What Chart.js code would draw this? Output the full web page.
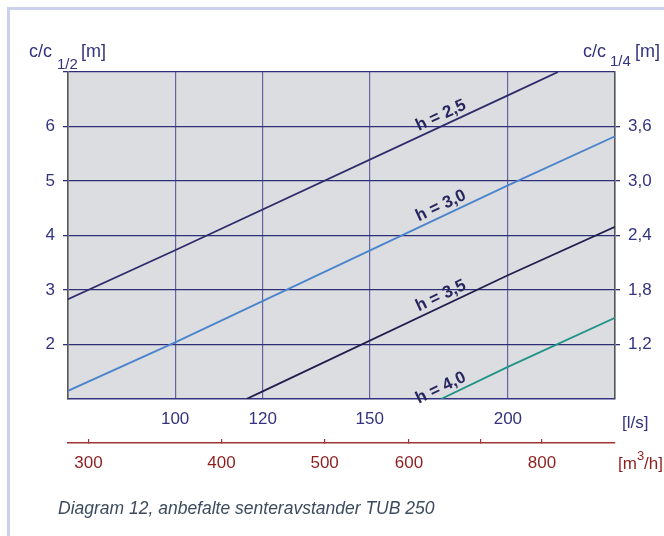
<!DOCTYPE html>
<html>
<head>
<meta charset="utf-8">
<script src="https://cdn.jsdelivr.net/npm/chart.js@4.4.1/dist/chart.umd.min.js"></script>
<style>
  body { margin: 0; background: #fff; }
  #wrap { position: relative; width: 664px; height: 536px; }
  #chart { position: absolute; left: 0; top: 0; }
  #caption {
    position: absolute; left: 58px; top: 498px;
    font: italic 17.5px 'Liberation Sans', Arial, sans-serif;
    line-height: 20px; color: #3d4b5e; white-space: nowrap;
  }
</style>
</head>
<body>
<div id="wrap">
  <canvas id="chart" width="664" height="536"></canvas>
  <div id="caption">Diagram 12, anbefalte senteravstander TUB 250</div>
</div>
<script>
// flow in l/s (log axis) against c/c1/2 in metres
const lsTicks = [100, 120, 150, 200];
const m3hTicks = [300, 400, 500, 600, 700, 800];
const m3hLabels = ['300', '400', '500', '600', '', '800'];
const ccHalfTicks = [2, 3, 4, 5, 6, 7];
const ccQuarterTicks = [1.2, 1.8, 2.4, 3.0, 3.6];

const seriesNames = ['h = 2,5', 'h = 3,0', 'h = 3,5', 'h = 4,0'];
const h25Flow = [80, 100, 200, 222];
const h25Cc = [2.83, 3.73, 6.57, 7.0];
const h30Flow = [80, 100, 200, 250];
const h30Cc = [1.15, 2.04, 4.92, 5.82];
const h35Flow = [116, 120, 200, 250];
const h35Cc = [1.0, 1.14, 3.27, 4.16];
const h40Flow = [174, 200, 250];
const h40Cc = [1.0, 1.59, 2.49];

const navy = '#33337f';
const FONT = "'Liberation Sans', Arial, sans-serif";
Chart.defaults.font.family = FONT;

function pts(xs, ys) {
  return xs.map((x, i) => ({ x: x, y: ys[i] }));
}

function fixTicks(values) {
  return function (scale) {
    scale.ticks = values.map(v => ({ value: v }));
  };
}

const plotBg = {
  id: 'plotBg',
  beforeDraw(chart) {
    const { ctx, chartArea: a } = chart;
    ctx.save();
    ctx.fillStyle = '#dcdde0';
    ctx.fillRect(a.left, a.top, a.right - a.left, a.bottom - a.top);
    // light frame round the figure
    ctx.fillStyle = '#c9d1ec';
    ctx.fillRect(7, 7, 657, 3);
    ctx.fillRect(7, 7, 3, 529);
    ctx.restore();
  }
};

const lineLabels = {
  id: 'lineLabels',
  afterDatasetsDraw(chart) {
    const ctx = chart.ctx;
    const xs = chart.scales.x, ys = chart.scales.y;
    const at = 175.5;
    ctx.save();
    ctx.font = 'bold 17px ' + FONT;
    ctx.fillStyle = '#27275f';
    ctx.textAlign = 'center';
    ctx.textBaseline = 'middle';
    chart.data.datasets.forEach(ds => {
      const d = ds.data;
      let i = 0;
      while (i < d.length - 2 && d[i + 1].x < at) i++;
      const p0 = d[i], p1 = d[i + 1];
      const t = (Math.log(at) - Math.log(p0.x)) / (Math.log(p1.x) - Math.log(p0.x));
      const yv = p0.y + t * (p1.y - p0.y);
      const px = xs.getPixelForValue(at), py = ys.getPixelForValue(yv);
      const ang = Math.atan2(ys.getPixelForValue(p1.y) - ys.getPixelForValue(p0.y),
                             xs.getPixelForValue(p1.x) - xs.getPixelForValue(p0.x));
      ctx.save();
      ctx.translate(px, py);
      ctx.rotate(ang);
      ctx.fillText(ds.label, 0, -10);
      ctx.restore();
    });
    ctx.restore();
  }
};

const axisTexts = {
  id: 'axisTexts',
  afterDraw(chart) {
    const ctx = chart.ctx;
    ctx.save();
    ctx.textBaseline = 'alphabetic';
    ctx.textAlign = 'left';
    ctx.fillStyle = navy;
    ctx.font = '18px ' + FONT;
    ctx.fillText('c/c', 29, 57);
    ctx.fillText('[m]', 81, 57);
    ctx.fillText('c/c', 583, 57);
    ctx.fillText('[m]', 635, 57);
    ctx.font = '17px ' + FONT;
    ctx.fillText('[l/s]', 622, 428);
    ctx.font = '15px ' + FONT;
    ctx.fillText('1/2', 57, 69);
    ctx.fillText('1/4', 610, 66);
    ctx.fillStyle = '#8e1f1f';
    ctx.font = '17px ' + FONT;
    ctx.fillText('[m', 618, 469);
    const w1 = ctx.measureText('[m').width;
    ctx.font = '13px ' + FONT;
    ctx.fillText('3', 618 + w1, 460);
    const w2 = ctx.measureText('3').width;
    ctx.font = '17px ' + FONT;
    ctx.fillText('/h]', 618 + w1 + w2, 469);
    ctx.restore();
  }
};

new Chart(document.getElementById('chart'), {
  type: 'scatter',
  data: {
    datasets: [
      { label: seriesNames[0], data: pts(h25Flow, h25Cc), borderColor: '#2c2c6c' },
      { label: seriesNames[1], data: pts(h30Flow, h30Cc), borderColor: '#4a84cc' },
      { label: seriesNames[2], data: pts(h35Flow, h35Cc), borderColor: '#1f1f4f' },
      { label: seriesNames[3], data: pts(h40Flow, h40Cc), borderColor: '#1f9486' }
    ].map(ds => Object.assign(ds, {
      showLine: true, pointRadius: 0, borderWidth: 1.8, xAxisID: 'x', yAxisID: 'y'
    }))
  },
  options: {
    responsive: false,
    animation: false,
    layout: { padding: { top: 72, left: 0, right: 0, bottom: 0 } },
    plugins: { legend: { display: false }, tooltip: { enabled: false } },
    scales: {
      x: {
        type: 'logarithmic', position: 'bottom', min: 80, max: 250, weight: 0,
        afterBuildTicks: fixTicks(lsTicks),
        afterFit(s) { s.height = 44; },
        grid: { color: '#6464a2', lineWidth: 1.2, drawTicks: false, tickLength: 0 },
        border: { color: navy, width: 1.5 },
        ticks: { color: navy, font: { size: 17 }, padding: 10, maxRotation: 0,
                 callback: v => String(v) }
      },
      x2: {
        type: 'logarithmic', position: 'bottom', min: 287, max: 937, weight: 1,
        afterBuildTicks: fixTicks(m3hTicks),
        afterFit(s) { s.height = 93; },
        grid: { drawOnChartArea: false, color: '#a03434', lineWidth: 1.2, tickLength: -4 },
        border: { color: '#a03434', width: 1.5 },
        ticks: { color: '#8e1f1f', font: { size: 17 }, padding: 14, maxRotation: 0,
                 callback: (v, i) => m3hLabels[i] }
      },
      y: {
        type: 'linear', position: 'left', min: 1, max: 7,
        afterBuildTicks: fixTicks(ccHalfTicks),
        afterFit(s) { s.width = 68; },
        grid: { color: '#2f2f78', lineWidth: 1.3, tickLength: 5 },
        border: { color: '#555555', width: 1.6 },
        ticks: { color: navy, font: { size: 17 }, padding: 8,
                 callback: v => (v === 7 ? '' : String(v)) }
      },
      y2: {
        type: 'linear', position: 'right', min: 0.6, max: 4.2,
        afterBuildTicks: fixTicks(ccQuarterTicks),
        afterFit(s) { s.width = 49; },
        grid: { drawOnChartArea: false, color: '#2f2f78', lineWidth: 1.3, tickLength: 5 },
        border: { color: '#555555', width: 1.6 },
        ticks: { color: navy, font: { size: 17 }, padding: 8,
                 callback: v => v.toFixed(1).replace('.', ',') }
      }
    }
  },
  plugins: [plotBg, lineLabels, axisTexts]
});
</script>
</body>
</html>
